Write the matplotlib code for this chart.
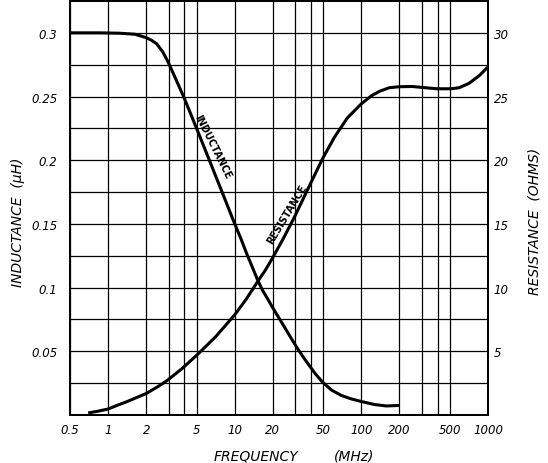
import matplotlib.pyplot as plt
from matplotlib.ticker import FixedLocator, NullFormatter

# values (inductance in uH, resistance in ohms)
freq_l = [0.5, 0.865, 1.24, 1.63, 2.0, 2.2, 2.42, 2.71, 2.97, 3.25, 3.56, 3.97,
          4.42, 5.02, 6.24, 7.9, 10, 11.2, 12.4, 13.9, 15.2, 16.6, 18.2, 19.9,
          22.2, 25.2, 28.1, 31.3, 34.9, 39, 43.4, 49.3, 58, 69.6, 83.4, 100,
          127, 157, 200]
inductance = [0.300, 0.300, 0.2997, 0.2989, 0.2962, 0.2942, 0.2914, 0.2848,
              0.2773, 0.2687, 0.2599, 0.2493, 0.2380, 0.2245, 0.2011, 0.1756,
              0.150, 0.1383, 0.1269, 0.1151, 0.1057, 0.0978, 0.0911, 0.0844,
              0.0766, 0.0676, 0.0597, 0.0522, 0.0452, 0.0385, 0.0322, 0.0259,
              0.0196, 0.0153, 0.0126, 0.0106, 0.0082, 0.0071, 0.0075]

freq_r = [0.696, 0.834, 1.0, 1.2, 1.41, 1.66, 2.0, 2.43, 2.91, 3.83, 5.02, 7.09,
          10, 12.2, 15.2, 17.5, 19.9, 24.3, 29.7, 34.3, 39.7, 49.3, 61.3, 77.6,
          100, 120, 139, 166, 199, 252, 313, 397, 511, 591, 709, 850, 1000]
resistance = [0.16, 0.30, 0.47, 0.79, 1.05, 1.35, 1.69, 2.18, 2.69, 3.64, 4.70,
              6.16, 7.87, 9.03, 10.49, 11.39, 12.33, 13.89, 15.57, 16.86, 18.18,
              20.11, 21.81, 23.33, 24.43, 25.06, 25.41, 25.69, 25.77, 25.79,
              25.70, 25.61, 25.61, 25.69, 26.04, 26.63, 27.32]

x_ticks = [0.5, 1, 2, 5, 10, 20, 50, 100, 200, 500, 1000]
x_labels = ["0.5", "1", "2", "5", "10", "20", "50", "100", "200", "500", "1000"]
x_minor = [3, 4, 30, 40, 300, 400]
l_ticks = [0.05, 0.1, 0.15, 0.2, 0.25, 0.3]
l_labels = ["0.05", "0.1", "0.15", "0.2", "0.25", "0.3"]
l_minor = [0.025, 0.075, 0.125, 0.175, 0.225, 0.275]
r_ticks = [5, 10, 15, 20, 25, 30]

font = dict(family="DejaVu Sans", style="italic")
curve = dict(color="k", lw=2.2, solid_capstyle="butt", solid_joinstyle="round")

fig = plt.figure(figsize=(5.48, 4.64), dpi=100)
ax = fig.add_axes([70 / 548, 1 - 416 / 464, 418 / 548, 414 / 464])
ax.set_xscale("log")
ax.set_xlim(0.5, 1000)
ax.set_ylim(0, 0.325)

ax.xaxis.set_major_locator(FixedLocator(x_ticks))
ax.xaxis.set_minor_locator(FixedLocator(x_minor))
ax.xaxis.set_minor_formatter(NullFormatter())
ax.set_xticklabels(x_labels, fontsize=8.5, **font)
ax.set_yticks(l_ticks)
ax.set_yticks(l_minor, minor=True)
ax.set_yticklabels(l_labels, fontsize=8.5, **font)
ax.tick_params(which="both", length=0)
ax.tick_params(axis="x", pad=6)
ax.tick_params(axis="y", pad=9)
ax.grid(True, which="both", color="k", lw=0.9)

ax.plot(freq_l, inductance, **curve)
ax.text(6.65, 0.2113, "INDUCTANCE", rotation=-63.4, ha="center", va="center",
        fontsize=7, fontweight="bold", family="DejaVu Sans Condensed")

ax2 = ax.twinx()
ax2.set_ylim(0, 32.5)
ax2.set_yticks(r_ticks)
ax2.set_yticklabels([str(v) for v in r_ticks], fontsize=8.5, **font)
ax2.tick_params(length=0, pad=4)
ax2.plot(freq_r, resistance, **curve)
ax2.text(25.7, 15.83, "RESISTANCE", rotation=58.9, ha="center", va="center",
         fontsize=7, fontweight="bold", family="DejaVu Sans Condensed")

for a in (ax, ax2):
    for spine in a.spines.values():
        spine.set_linewidth(1.4)

fig.text(18 / 548, 1 - 222 / 464, "INDUCTANCE  (\u03bcH)", rotation=90,
         ha="center", va="center", fontsize=10, **font)
fig.text(534 / 548, 1 - 221 / 464, "RESISTANCE  (OHMS)", rotation=90,
         ha="center", va="center", fontsize=10, **font)
fig.text(256 / 548, 1 - 457 / 464, "FREQUENCY", ha="center", va="center",
         fontsize=10, **font)
fig.text(354 / 548, 1 - 457 / 464, "(MHz)", ha="center", va="center",
         fontsize=10, **font)

fig.savefig("out.png", dpi=100)
